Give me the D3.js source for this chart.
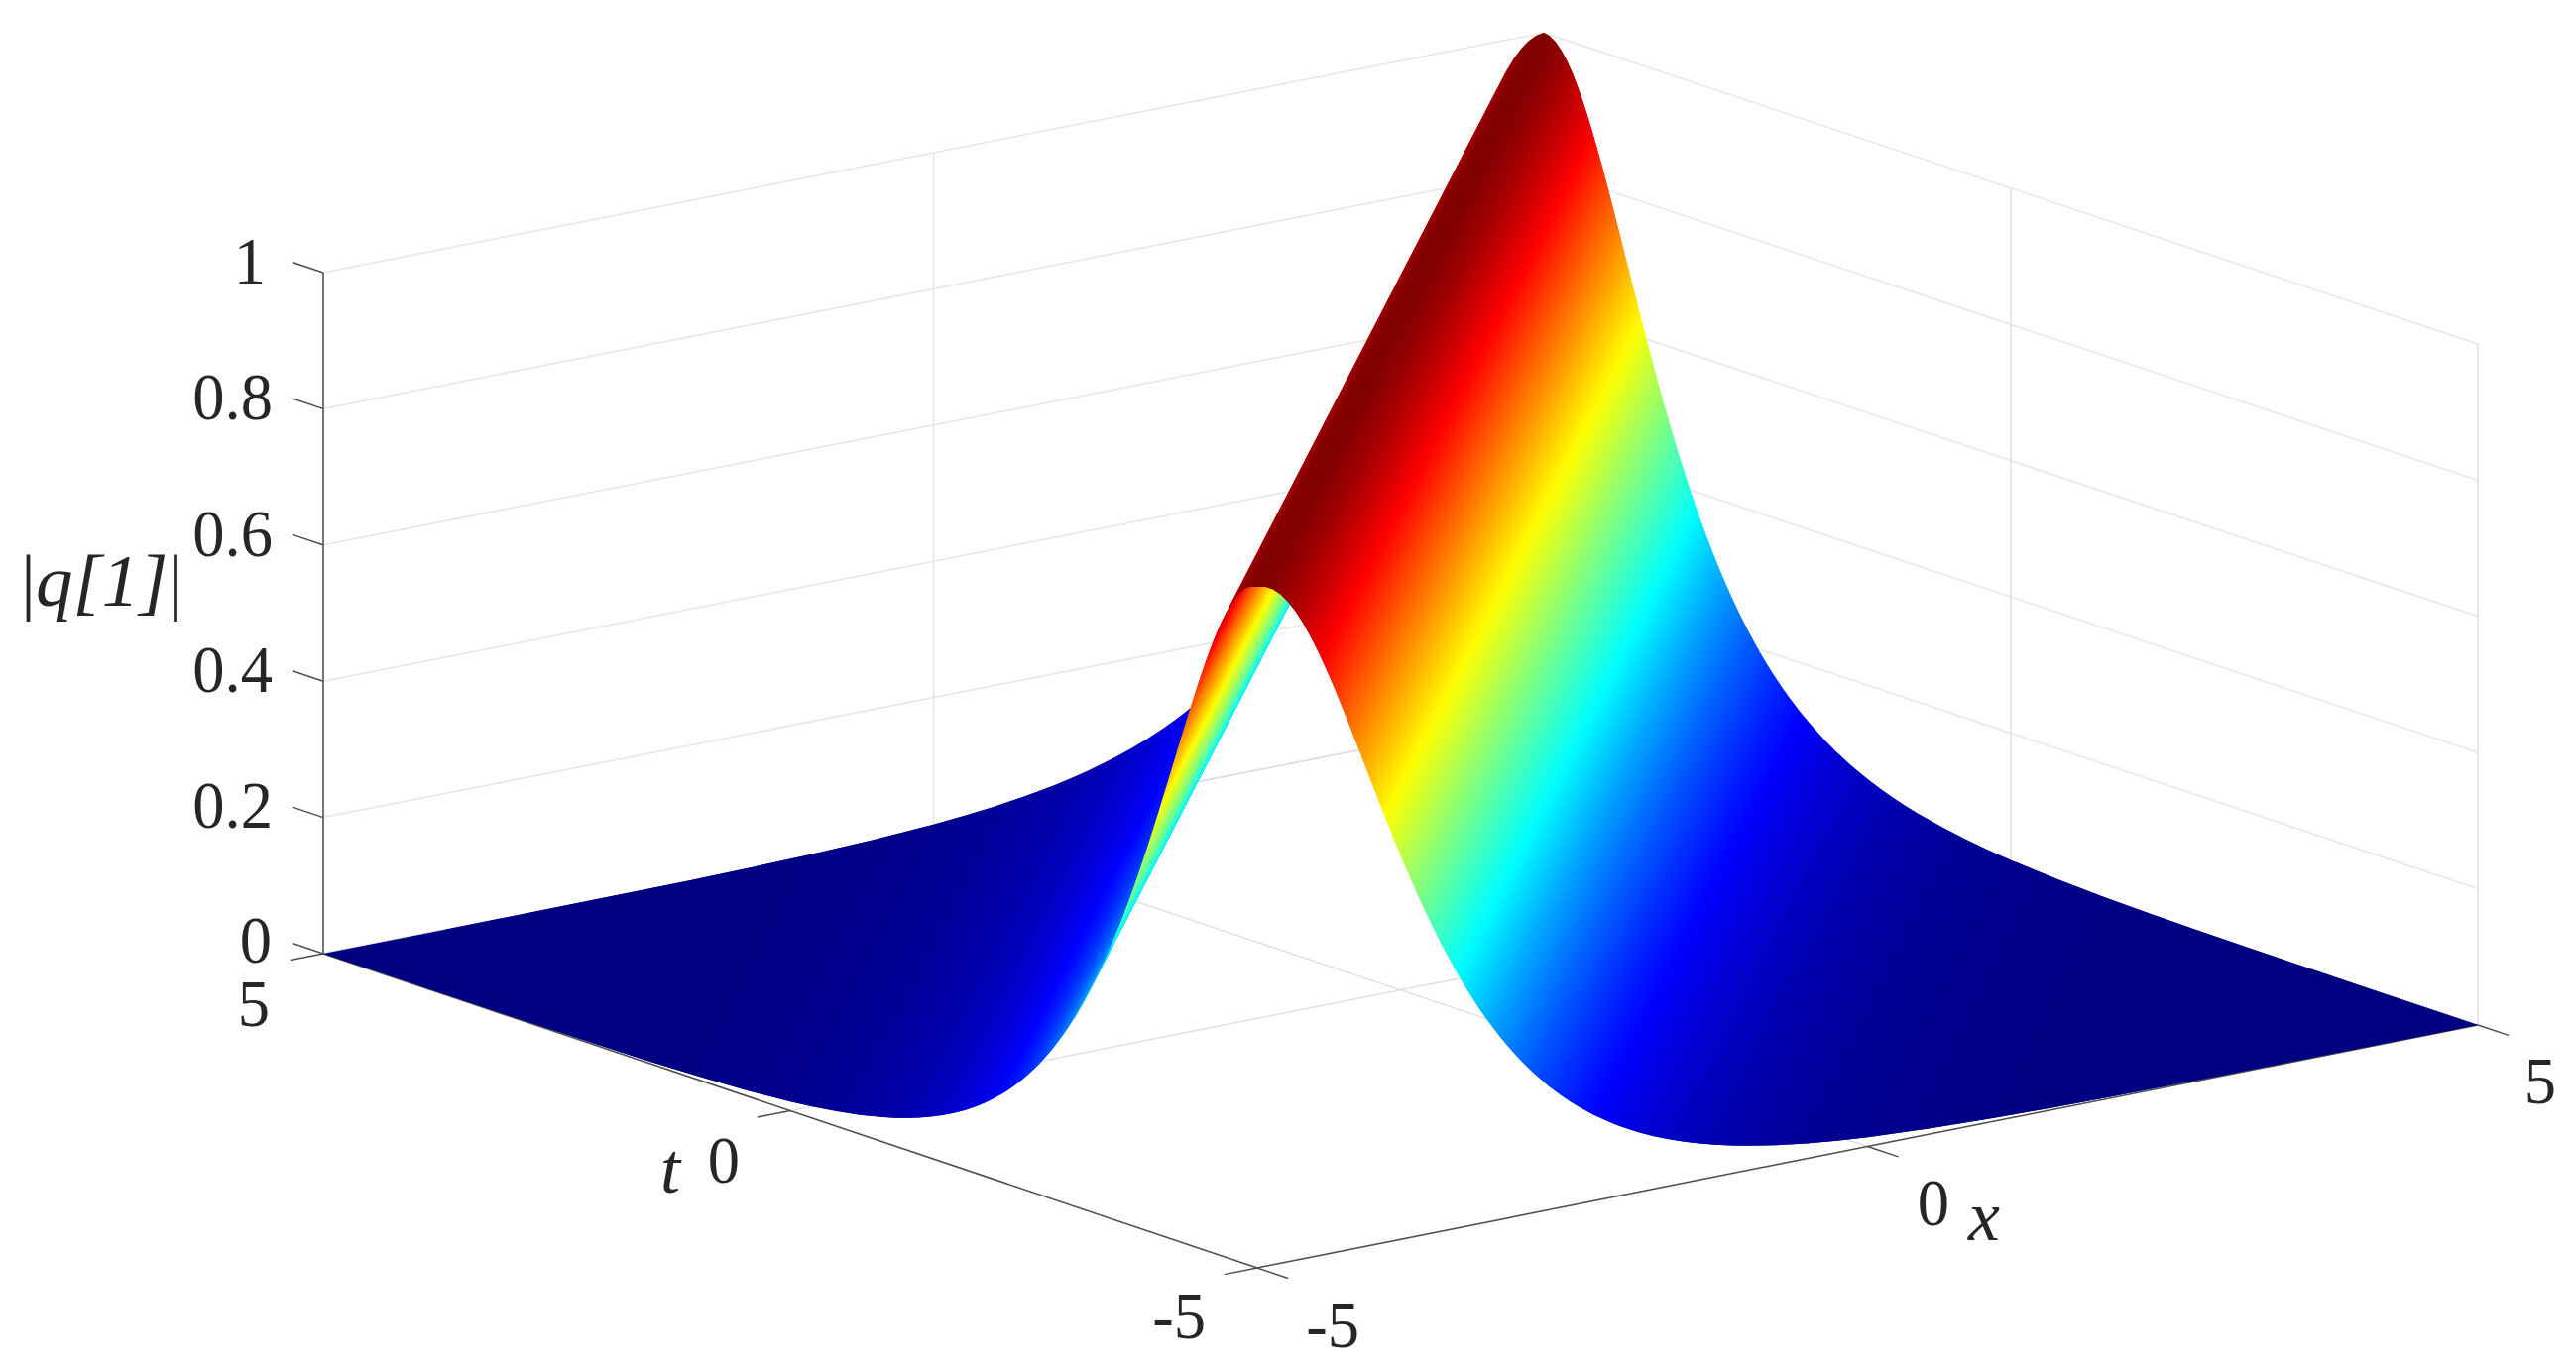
<!DOCTYPE html>
<html>
<head>
<meta charset="utf-8">
<script src="https://cdn.jsdelivr.net/npm/d3@7/dist/d3.min.js"></script>
<style>
html,body{margin:0;padding:0;background:#fff;overflow:hidden}
svg{display:block}
text{font-family:"Liberation Serif","Times New Roman",serif;fill:#262626}
</style>
</head>
<body>
<svg id="chart" width="2598" height="1379"></svg>
<script>
// ---- values ----
const xTicks = [-5, 0, 5];
const tTicks = [-5, 0, 5];
const zTicks = [0, 0.2, 0.4, 0.6, 0.8, 1];
// distance from the ridge crest (|x - t|) and the height of the surface there
const ridgeOffset = [0,.0625,.125,.1875,.25,.3125,.375,.4375,.5,.5625,.625,.6875,.75,.8125,.875,.9375,
  1,1.0625,1.125,1.1875,1.25,1.3125,1.375,1.4375,1.5,1.5625,1.625,1.6875,1.75,1.8125,1.875,1.9375,
  2,2.0625,2.125,2.1875,2.25,2.3125,2.375,2.4375,2.5,2.5625,2.625,2.6875,2.75,2.8125,2.875,2.9375,
  3,3.125,3.25,3.375,3.5,3.625,3.75,3.875,4,4.25,4.5,4.75,5,5.5,6,6.5,7,8,9,10];
const ridgeHeight = [1,.9980,.9922,.9827,.9695,.9531,.9336,.9114,.8868,.8603,.8321,.8027,.7724,.7415,.7103,.6791,
  .6481,.6174,.5874,.5581,.5295,.5019,.4753,.4497,.4251,.4016,.3791,.3577,.3374,.3180,.2997,.2823,
  .2658,.2502,.2355,.2216,.2085,.1961,.1844,.1734,.1631,.1533,.1441,.1355,.1273,.1197,.1125,.1057,
  .0993,.0877,.0774,.0684,.0603,.0533,.0470,.0415,.0366,.0285,.0222,.0173,.0135,.0082,.0050,.0030,.0018,.0007,.0002,.0001];
// colormap
const jetStops = [0, .125, .375, .625, .875, 1];
const jetColors = ["#000080", "#0000ff", "#00ffff", "#ffff00", "#ff0000", "#800000"];

// ---- scales: each data axis contributes a screen offset ----
const xToPx = d3.scaleLinear([-5, 5], [1268, 2499]);
const xToPy = d3.scaleLinear([-5, 5], [1279, 1034]);
const tToPx = d3.scaleLinear([-5, 5], [0, -942]);
const tToPy = d3.scaleLinear([-5, 5], [0, -317]);
const zToPy = d3.scaleLinear([0, 1], [0, -687]);
const depthX = d3.scaleLinear([-5, 5], [0, 1]);
const depthT = d3.scaleLinear([-5, 5], [0, 3]);   // slight perspective drop of the far corner
const jet = d3.scaleLinear(jetStops, jetColors).interpolate(d3.interpolateRgb);
const project = (x, t, z) => [xToPx(x) + tToPx(t), xToPy(x) + tToPy(t) + zToPy(z) + depthX(x) * depthT(t)];
const line = d3.line();

const svg = d3.select("#chart");
const defs = svg.append("defs");

// ---- grid ----
const gridLines = [];
zTicks.forEach(z => {
  gridLines.push({a:[-5,5,z], b:[5,5,z], c:z===0?"#cfcfcf":"#e6e6e6"});
  gridLines.push({a:[5,5,z], b:[5,-5,z], c:z===0?"#cfcfcf":"#e6e6e6"});
});
xTicks.forEach(x => {
  gridLines.push({a:[x,5,0], b:[x,5,1], c:"#e6e6e6"});
  gridLines.push({a:[x,5,0], b:[x,-5,0], c:"#e0e0e0"});
});
tTicks.forEach(t => {
  gridLines.push({a:[5,t,0], b:[5,t,1], c:"#e0e0e0"});
  gridLines.push({a:[-5,t,0], b:[5,t,0], c:"#e0e0e0"});
});
svg.append("g").selectAll("path").data(gridLines).join("path")
  .attr("d", d => line([project(...d.a), project(...d.b)]))
  .attr("fill", "none").attr("stroke", d => d.c).attr("stroke-width", 1.5);

// ---- axes ----
const axisLines = [
  {a:[-5,5,0], b:[-5,5,1]},
  {a:[-5,5,0], b:[-5,-5,0]},
  {a:[-5,-5,0], b:[5,-5,0]}
];
zTicks.forEach(z => axisLines.push({a:[-5,5,z], b:[-5,5.33,z]}));
tTicks.forEach(t => axisLines.push({a:[-5,t,0], b:[-5.27,t,0]}));
xTicks.forEach(x => axisLines.push({a:[x,-5,0], b:[x,-5.33,0]}));
svg.append("g").selectAll("path").data(axisLines).join("path")
  .attr("d", d => line([project(...d.a), project(...d.b)]))
  .attr("fill", "none").attr("stroke", "#4d4d4d").attr("stroke-width", 1.5);

// ---- surface: strips along the ridge, painted far side to near side.
// Each strip also runs under the next one, so no seam shows between them. ----
const n = ridgeOffset.length;
const profile = d3.range(n - 1, 0, -1).map(i => ({u: -ridgeOffset[i], z: ridgeHeight[i]}))
  .concat(ridgeOffset.map((u, i) => ({u, z: ridgeHeight[i]})));
const ruleEnds = (u, z) => u >= 0
  ? [project(-5 + u, -5, z), project(5, 5 - u, z)]
  : [project(-5, -5 - u, z), project(5 + u, 5, z)];
const dirA = project(-5, -5, 0), dirB = project(5, 5, 0);
const dirLen = Math.hypot(dirB[0] - dirA[0], dirB[1] - dirA[1]);
const normal = [-(dirB[1] - dirA[1]) / dirLen, (dirB[0] - dirA[0]) / dirLen];

const strips = d3.pairs(profile).map(([p, q], i) => {
  const [a1, b1] = ruleEnds(p.u, p.z), [a2, b2] = ruleEnds(q.u, q.z);
  const r = profile[i + 2];
  const poly = r ? (([a3, b3]) => [a1, b1, b2, b3, a3, a2])(ruleEnds(r.u, r.z)) : [a1, b1, b2, a2];
  let d = (a2[0] - a1[0]) * normal[0] + (a2[1] - a1[1]) * normal[1];
  if (Math.abs(d) < 0.01) d = 0.01;
  return {id: "s" + i, z1: p.z, z2: q.z, poly,
    g1: a1, g2: [a1[0] + normal[0] * d, a1[1] + normal[1] * d]};
});
const grads = defs.selectAll("linearGradient").data(strips).join("linearGradient")
  .attr("id", d => d.id).attr("gradientUnits", "userSpaceOnUse")
  .attr("x1", d => d.g1[0]).attr("y1", d => d.g1[1])
  .attr("x2", d => d.g2[0]).attr("y2", d => d.g2[1]);
grads.selectAll("stop").data(d => [0, .5, 1].map(f => ({f, c: jet(d.z1 + (d.z2 - d.z1) * f)})))
  .join("stop").attr("offset", d => d.f).attr("stop-color", d => d.c);
svg.append("g").selectAll("path").data(strips).join("path")
  .attr("d", d => line(d.poly) + "Z")
  .attr("fill", d => `url(#${d.id})`);

// ---- text ----
const SIZE = 68, SQUEEZE = 0.95;
const labels = [
  {s:"1", x:268, y:286}, {s:"0.8", x:275, y:423}, {s:"0.6", x:275, y:561},
  {s:"0.4", x:275, y:698}, {s:"0.2", x:275, y:835}, {s:"0", x:274, y:971},
  {s:"5", x:272, y:1035}, {s:"0", x:746, y:1193}, {s:"-5", x:1216, y:1350},
  {s:"-5", x:1371, y:1359}, {s:"0", x:1966, y:1236}, {s:"5", x:2578, y:1113}
];
svg.append("g").selectAll("text").data(labels).join("text")
  .attr("transform", d => `translate(${d.x},${d.y}) scale(${SQUEEZE},1)`)
  .attr("text-anchor", "end").attr("font-size", SIZE).text(d => d.s);
const names = [
  {s:"t", x:666, y:1203}, {s:"x", x:1985, y:1251}
];
svg.append("g").selectAll("text").data(names).join("text")
  .attr("transform", d => `translate(${d.x},${d.y})`)
  .attr("font-size", 72).attr("font-style", "italic").text(d => d.s);
const zName = svg.append("text")
  .attr("transform", "translate(21,611)")
  .attr("font-size", 75);
zName.append("tspan").text("|");
zName.append("tspan").attr("font-style", "italic").text("q[1]");
zName.append("tspan").text("|");
</script>
</body>
</html>
